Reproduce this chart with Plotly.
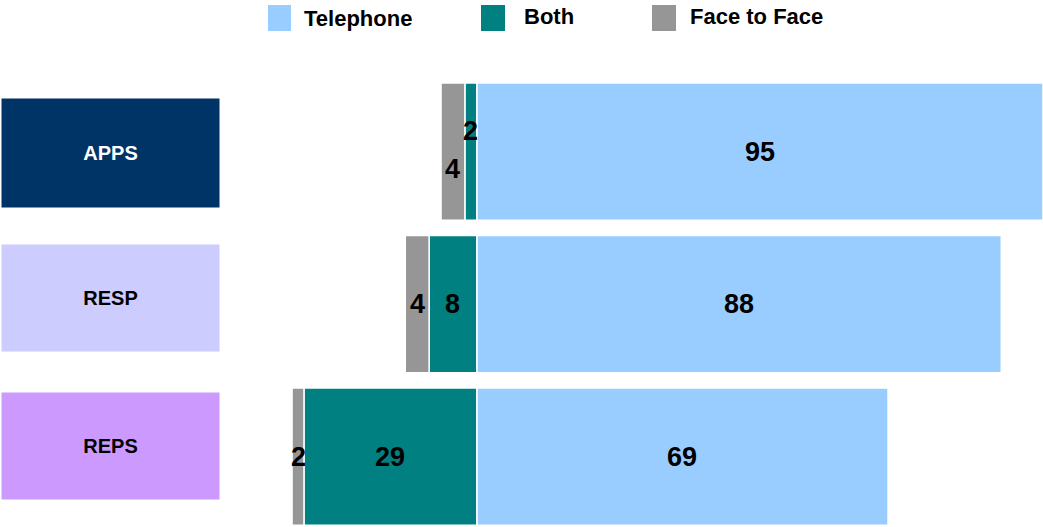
import plotly.graph_objects as go

# ---- data ----
categories = ["APPS", "RESP", "REPS"]
telephone = [95, 88, 69]
both = [2, 8, 29]
face_to_face = [4, 4, 2]
series_names = ["Telephone", "Both", "Face to Face"]

# ---- styles ----
W, H = 1043, 527
colors = {"Telephone": "#99CCFF", "Both": "#008080", "Face to Face": "#969696"}
cat_box_colors = {"APPS": "#003366", "RESP": "#CCCCFF", "REPS": "#CC99FF"}
cat_text_colors = {"APPS": "#FFFFFF", "RESP": "#000000", "REPS": "#000000"}
FONT = "Arial, Liberation Sans, sans-serif"

fig = go.Figure()
fig.add_trace(go.Bar(y=categories, x=telephone, name="Telephone", orientation="h",
                     marker=dict(color=colors["Telephone"], line=dict(color="white", width=1.5)),
                     width=0.9))
fig.add_trace(go.Bar(y=categories, x=[-v for v in both], name="Both", orientation="h",
                     marker=dict(color=colors["Both"], line=dict(color="white", width=1.5)),
                     width=0.9))
fig.add_trace(go.Bar(y=categories, x=[-v for v in face_to_face], name="Face to Face", orientation="h",
                     marker=dict(color=colors["Face to Face"], line=dict(color="white", width=1.5)),
                     width=0.9))

annotations = []
label_font = dict(family=FONT, size=27, color="black", weight="bold")
# vertical offsets (px) for crowded labels
face_shift = {"APPS": -17}
both_shift = {"APPS": 21}
for i, c in enumerate(categories):
    annotations.append(dict(x=telephone[i] / 2, y=c, xref="x", yref="y", text=str(telephone[i]),
                            showarrow=False, font=label_font))
    annotations.append(dict(x=-both[i] / 2, y=c, xref="x", yref="y", text=str(both[i]),
                            showarrow=False, font=label_font, yshift=both_shift.get(c, 0)))
    annotations.append(dict(x=-both[i] - face_to_face[i] / 2, y=c, xref="x", yref="y",
                            text=str(face_to_face[i]), showarrow=False, font=label_font,
                            yshift=face_shift.get(c, 0)))

# category label boxes (left)
box_px = {"APPS": (99, 207), "RESP": (245, 351), "REPS": (393, 499)}
for c in categories:
    top, bot = box_px[c]
    annotations.append(dict(xref="paper", yref="paper", x=1 / W, y=1 - (top + bot) / 2 / H,
                            xanchor="left", yanchor="middle", text=c, showarrow=False,
                            width=217, height=bot - top, bgcolor=cat_box_colors[c],
                            align="center", valign="middle", borderpad=0,
                            font=dict(family=FONT, size=20, color=cat_text_colors[c], weight="bold")))

# manual legend (large swatches)
legend_px = {"Telephone": (268, 291, 5, 31, 302, 19),
             "Both": (481, 505, 5, 31, 522, 17),
             "Face to Face": (652, 676, 5, 31, 688, 17)}
shapes = []
for name in series_names:
    x0, x1, y0, y1, tx, ty = legend_px[name]
    shapes.append(dict(type="rect", xref="paper", yref="paper", x0=x0 / W, x1=x1 / W,
                       y0=1 - y1 / H, y1=1 - y0 / H, fillcolor=colors[name], line=dict(width=0)))
    annotations.append(dict(xref="paper", yref="paper", x=tx / W, y=1 - ty / H, xanchor="left",
                            yanchor="middle", text=name, showarrow=False,
                            font=dict(family=FONT, size=22, color="black", weight="bold")))

fig.update_layout(
    width=W, height=H, margin=dict(l=0, r=0, t=0, b=0),
    barmode="relative", showlegend=False,
    plot_bgcolor="white", paper_bgcolor="white",
    xaxis=dict(range=[-80, 95], visible=False, fixedrange=True),
    yaxis=dict(type="category", categoryarray=categories, range=[2.462, -0.9934],
               visible=False, fixedrange=True),
    annotations=annotations, shapes=shapes,
)
fig.write_html("out.html", config={"displayModeBar": False},
               post_script="document.body.style.margin='0';document.body.style.overflow='hidden';")
